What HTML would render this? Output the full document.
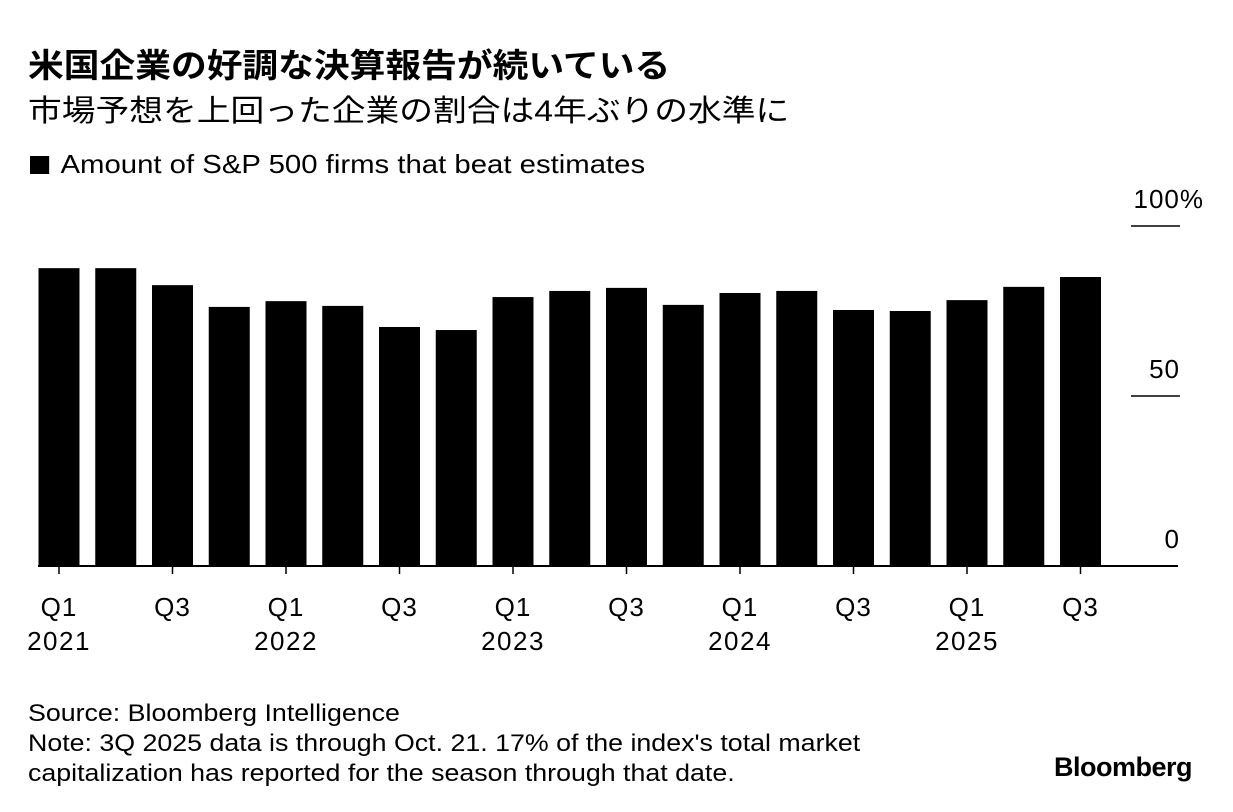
<!DOCTYPE html>
<html><head><meta charset="utf-8">
<style>
body{margin:0;background:#fff;width:1233px;height:812px;overflow:hidden;font-family:"Liberation Sans","Noto Sans CJK JP",sans-serif;color:#000}
.t{position:absolute;white-space:nowrap;transform-origin:0 0}
</style></head><body>
<div class="t" style="left:28px;top:39px;font-size:33px;font-weight:bold;transform:scaleX(1.083)">米国企業の好調な決算報告が続いている</div>
<div class="t" style="left:28px;top:86px;font-size:30px;transform:scaleX(1.125)">市場予想を上回った企業の割合は4年ぶりの水準に</div>
<div class="t" style="left:30px;top:149px;font-size:26px;transform:scaleX(1.128)"><span style="display:inline-block;width:17px;height:18px;background:#000;margin-right:10px;vertical-align:-1px"></span>Amount of S&amp;P 500 firms that beat estimates</div>
<svg id="chart" width="1233" height="812" style="position:absolute;left:0;top:0"></svg>
<div class="t" style="left:28px;top:699px;font-size:24px;line-height:30px;transform:scaleX(1.115)">Source: Bloomberg Intelligence<br>Note: 3Q 2025 data is through Oct. 21. 17% of the index's total market<br>capitalization has reported for the season through that date.</div>
<div class="t" style="left:1054px;top:752px;font-size:27px;font-weight:bold;letter-spacing:-0.5px">Bloomberg</div>
<script>
const categories=["Q1 2021","Q2 2021","Q3 2021","Q4 2021","Q1 2022","Q2 2022","Q3 2022","Q4 2022","Q1 2023","Q2 2023","Q3 2023","Q4 2023","Q1 2024","Q2 2024","Q3 2024","Q4 2024","Q1 2025","Q2 2025","Q3 2025"];
const values=[87.6,87.6,82.6,76.2,77.9,76.5,70.3,69.4,79.1,80.9,81.8,76.8,80.3,80.9,75.3,75,78.2,82.1,85];
const yTicks=[0,50,100];
const yTickLabels=["0","50","100%"];
const svg=document.getElementById('chart');
const NS='http://www.w3.org/2000/svg';
const y0=566,pxPer=3.4,x0=59,step=56.75,bw=41;
const y=v=>y0-v*pxPer;
const x=i=>x0+i*step;
const FF='Liberation Sans, sans-serif';
function mk(tag,attrs){const e=document.createElementNS(NS,tag);for(const k in attrs)e.setAttribute(k,attrs[k]);svg.appendChild(e);return e;}
yTicks.forEach((t,i)=>{
  if(t>0){const l=mk('line',{x1:1131,x2:1180,y1:y(t),y2:y(t),stroke:'#000','stroke-width':1.5});
  
  }
  const tx=mk('text',{x:t===100?1204:1180,y:y(t)-18,'text-anchor':'end','font-size':26,'letter-spacing':1,'font-family':FF});
  tx.textContent=yTickLabels[i];
  
  
});
values.forEach((v,i)=>{
  const r=mk('rect',{x:x(i)-bw/2,y:y(v),width:bw,height:y0-y(v),fill:'#000'});
  
  
});
const ax=mk('line',{x1:38,x2:1178,y1:y0,y2:y0,stroke:'#000','stroke-width':2});


categories.forEach((c,i)=>{
  const [q,yr]=c.split(' ');
  if(q!=='Q1'&&q!=='Q3')return;
  const tk=mk('line',{x1:x(i),x2:x(i),y1:y0,y2:y0+8,stroke:'#000','stroke-width':1.5});
  
  
  const t=mk('text',{x:x(i),y:616,'text-anchor':'middle','font-size':26,'letter-spacing':1,'font-family':FF});
  t.textContent=q;
  
  
  if(q==='Q1'){const t2=mk('text',{x:x(i),y:650,'text-anchor':'middle','font-size':26,'letter-spacing':1.5,'font-family':FF});
  t2.textContent=yr;
  
  }
});
</script>
</body></html>
